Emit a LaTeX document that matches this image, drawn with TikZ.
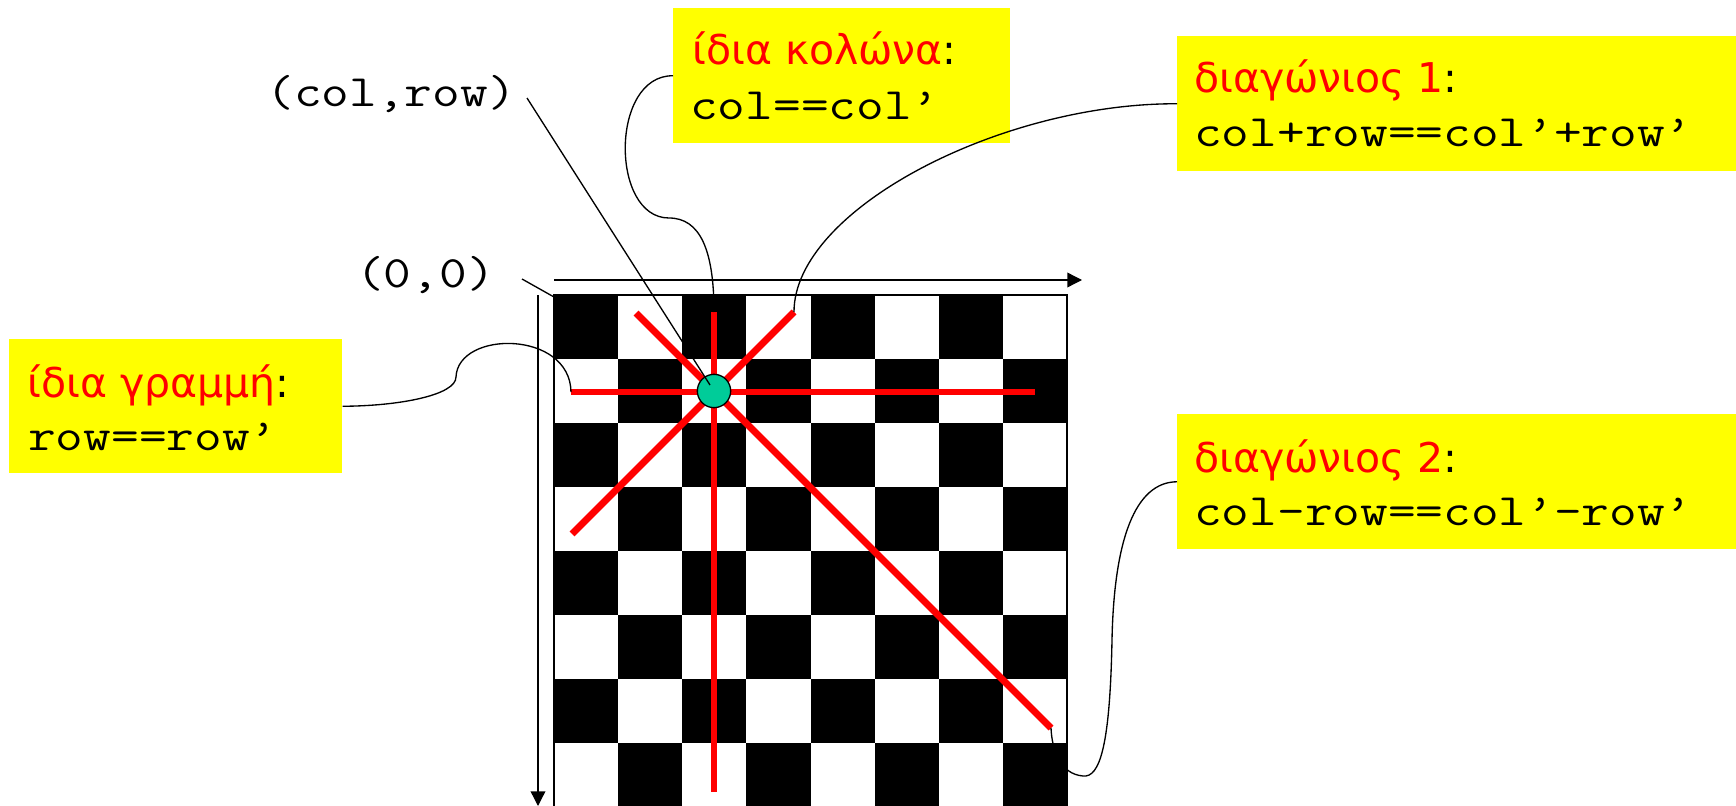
\documentclass[tikz,border=0pt]{standalone}
\usepackage{fontspec}
\setmainfont{DejaVu Sans}
\newfontfamily\monof{Latin Modern Mono}[FakeStretch=1.2]
\usetikzlibrary{arrows.meta,calc}
\definecolor{boxyellow}{HTML}{FFFF00}
\definecolor{hlred}{HTML}{FF0000}
\definecolor{dotteal}{HTML}{00CC99}
\tikzset{
  box/.style={fill=boxyellow, draw=none, inner sep=0pt, anchor=north west},
  grtext/.style={inner sep=0pt, anchor=base west, font=\fontsize{30.75pt}{36pt}\selectfont},
  montext/.style={inner sep=0pt, anchor=base west, font=\monof\fontsize{33.6pt}{40pt}\selectfont},
  redline/.style={draw=hlred, line width=5.2pt},
  callout/.style={draw=black, line width=1pt},
  axis/.style={draw=black, line width=1pt, -{Triangle[length=11pt,width=11pt]}},
}
\begin{document}
\begin{tikzpicture}[x=0.75pt,y=-0.75pt]
\useasboundingbox (0,0) rectangle (1736,806);
% checkerboard
\foreach \r in {0,...,7}{
  \foreach \c in {0,...,7}{
    \pgfmathtruncatemacro{\parity}{mod(\r+\c,2)}
    \ifnum\parity=0
      \fill[black] ({554+\c*64.125},{295+\r*64}) rectangle ({554+(\c+1)*64.125},{295+(\r+1)*64});
    \fi
  }
}
\draw[black, line width=1pt] (554,295) rectangle (1067,808);
\coordinate (corner) at (554,297);
% axes
\coordinate (hx0) at (554,280);
\coordinate (hx1) at (1082,280);
\coordinate (vy0) at (538,295);
\coordinate (vy1) at (538,806);
\draw[axis] (hx0) -- (hx1);
\draw[axis] (vy0) -- (vy1);
% red lines
\coordinate (hL) at (571,392);
\coordinate (hR) at (1035,392);
\coordinate (vT) at (714,312);
\coordinate (vB) at (714,792);
\coordinate (aT) at (794,312);
\coordinate (aB) at (572,534);
\coordinate (dT) at (636,313);
\coordinate (dB) at (1051,728);
\draw[redline] (hL) -- (hR);
\draw[redline] (vT) -- (vB);
\draw[redline] (aT) -- (aB);
\draw[redline] (dT) -- (dB);
% circle
\node[circle, draw=black, line width=1pt, fill=dotteal, minimum size=25pt, inner sep=0pt] (dot) at (714,391) {};
% boxes
\node[box, minimum width={337*0.75pt}, minimum height={135*0.75pt}] (kbox) at (673,8) {};
\node[box, minimum width={559*0.75pt}, minimum height={135*0.75pt}] (d1box) at (1177,36) {};
\node[box, minimum width={559*0.75pt}, minimum height={135*0.75pt}] (d2box) at (1177,414) {};
\node[box, minimum width={333*0.75pt}, minimum height={134*0.75pt}] (gbox) at (9,339) {};
% texts
\node[grtext] (kt1) at (692,65) {\textcolor{hlred}{ίδια κολώνα}:};
\node[montext] (kt2) at (690,120) {col==col’};
\node[grtext] (d1t1) at (1194,93) {\textcolor{hlred}{διαγώνιος 1}:};
\node[montext] (d1t2) at (1194,147) {col+row==col’+row’};
\node[grtext] (d2t1) at (1194,472) {\textcolor{hlred}{διαγώνιος 2}:};
\node[montext] (d2t2) at (1194,525) {col-row==col’-row’};
\node[grtext] (gt1) at (27,397) {\textcolor{hlred}{ίδια γραμμή}:};
\node[montext] (gt2) at (28,450) {row==row’};
\node[montext, anchor=base east] (colrow) at (516,107) {(col,row)};
\node[montext, anchor=base east] (origin) at (495,287) {(0,0)};
% leaders
\coordinate (crs) at (527,98);
\coordinate (ors) at (522,279);
\draw[callout] (crs) -- ($(dot.center)+(-4,-6)$);
\draw[callout] (ors) -- (corner);
% callouts
\draw[callout] (kbox.west) .. controls (610,75) and (610,218) .. (669,218)
  .. controls (700,218) and (714,250) .. (vT);
\draw[callout] (d1box.west) .. controls (1000,103) and (794,210) .. (aT);
\draw[callout] (gbox.east) .. controls (400,406) and (456,395) .. (456,377)
  .. controls (458,330) and (570,330) .. (hL);
\draw[callout] (d2box.west) .. controls (1135,482) and (1114,540) .. (1112,640)
  .. controls (1110,745) and (1100,778) .. (1083,776)
  .. controls (1060,774) and (1052,750) .. (dB);
\end{tikzpicture}
\end{document}
